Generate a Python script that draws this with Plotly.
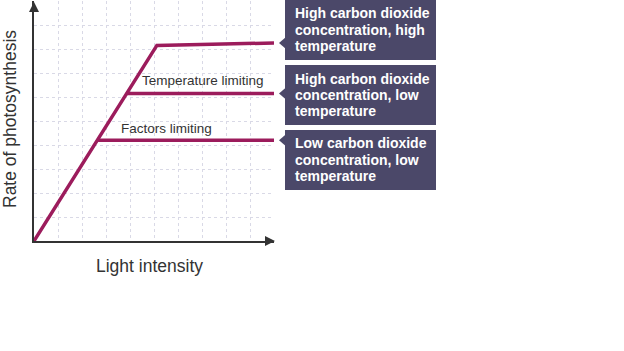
import plotly.graph_objects as go

W, H = 624, 351

# ---- data (units of light intensity / rate) ----
high_co2_high_t_x = [0, 5.12, 10]
high_co2_high_t_y = [0, 8.15, 8.25]
high_co2_low_t_x = [3.83, 10]
high_co2_low_t_y = [6.15, 6.15]
low_co2_low_t_x = [2.67, 10]
low_co2_low_t_y = [4.2, 4.2]

curve_labels = ["Temperature limiting", "Factors limiting"]
curve_label_x = [7.04, 5.5]
curve_label_y = [6.67, 4.67]

box_texts = [
    ["High carbon dioxide", "concentration, high", "temperature"],
    ["High carbon dioxide", "concentration, low", "temperature"],
    ["Low carbon dioxide", "concentration, low", "temperature"],
]
box_pointer_y = [8.25, 6.15, 4.2]

x_title = "Light intensity"
y_title = "Rate of photosynthesis"

LINE = "#9c1c5c"
AX = "#333333"
BOX = "#4b4869"
FONT = "Liberation Sans, Arial, sans-serif"


def px(x):
    return x / W


def py(y):
    return 1 - y / H


fig = go.Figure()
for xs, ys in [(high_co2_high_t_x, high_co2_high_t_y),
               (high_co2_low_t_x, high_co2_low_t_y),
               (low_co2_low_t_x, low_co2_low_t_y)]:
    fig.add_trace(go.Scatter(x=xs, y=ys, mode="lines",
                             line=dict(color=LINE, width=3.5),
                             hoverinfo="skip", showlegend=False))

shapes = []
# axis arrowheads
shapes.append(dict(type="path", xref="paper", yref="paper",
                   path=f"M {px(29)} {py(12)} L {px(34)} {py(2)} L {px(39)} {py(12)} Z",
                   fillcolor=AX, line=dict(width=0)))
shapes.append(dict(type="path", xref="paper", yref="paper",
                   path=f"M {px(265)} {py(236)} L {px(275)} {py(241)} L {px(265)} {py(246)} Z",
                   fillcolor=AX, line=dict(width=0)))

annotations = []
for t, x, y in zip(curve_labels, curve_label_x, curve_label_y):
    annotations.append(dict(text=t, x=x, y=y, xref="x", yref="y",
                            xanchor="center", yanchor="middle",
                            showarrow=False, font=dict(family=FONT, size=13.5, color=AX)))

# boxes
box_tops = [0, 65, 130]
box_h = 60
for i, lines in enumerate(box_texts):
    top = box_tops[i]
    shapes.append(dict(type="rect", xref="paper", yref="paper",
                       x0=px(285), x1=px(436), y0=py(top), y1=py(top + box_h),
                       fillcolor=BOX, line=dict(width=0), layer="above"))
    ay = 241 - box_pointer_y[i] * 24
    shapes.append(dict(type="path", xref="paper", yref="paper",
                       path=f"M {px(286)} {py(ay - 6)} L {px(279)} {py(ay)} L {px(286)} {py(ay + 6)} Z",
                       fillcolor=BOX, line=dict(width=0), layer="above"))
    for j, ln in enumerate(lines):
        cy = top + 13.5 + j * 16.3
        annotations.append(dict(text=ln, x=px(293), y=py(cy), xref="paper", yref="paper",
                                xanchor="left", yanchor="middle", showarrow=False,
                                font=dict(family=FONT, size=14, color="white", weight="bold")))

annotations.append(dict(text=x_title, x=px(149), y=py(266), xref="paper", yref="paper",
                        xanchor="center", yanchor="middle",
                        showarrow=False, font=dict(family=FONT, size=17.5, color=AX)))
annotations.append(dict(text=y_title, x=px(10), y=py(119), xref="paper", yref="paper",
                        xanchor="center", yanchor="middle",
                        showarrow=False, textangle=-90,
                        font=dict(family=FONT, size=17.5, color=AX)))

fig.update_layout(
    width=W, height=H, margin=dict(l=0, r=0, t=0, b=0),
    paper_bgcolor="white", plot_bgcolor="white",
    shapes=shapes, annotations=annotations,
    xaxis=dict(domain=[px(34), px(274)], range=[0, 10],
               tickvals=list(range(1, 11)), showticklabels=False, ticks="",
               showgrid=True, gridcolor="#d9d9e6", gridwidth=1, griddash="dot",
               showline=True, linecolor=AX, linewidth=2, zeroline=False, fixedrange=True),
    yaxis=dict(domain=[1 - 241 / H, 1 - 1 / H], range=[0, 10],
               tickvals=list(range(1, 10)), showticklabels=False, ticks="",
               showgrid=True, gridcolor="#d9d9e6", gridwidth=1, griddash="dot",
               showline=True, linecolor=AX, linewidth=2, zeroline=False, fixedrange=True),
)

fig.write_html("out.html")
